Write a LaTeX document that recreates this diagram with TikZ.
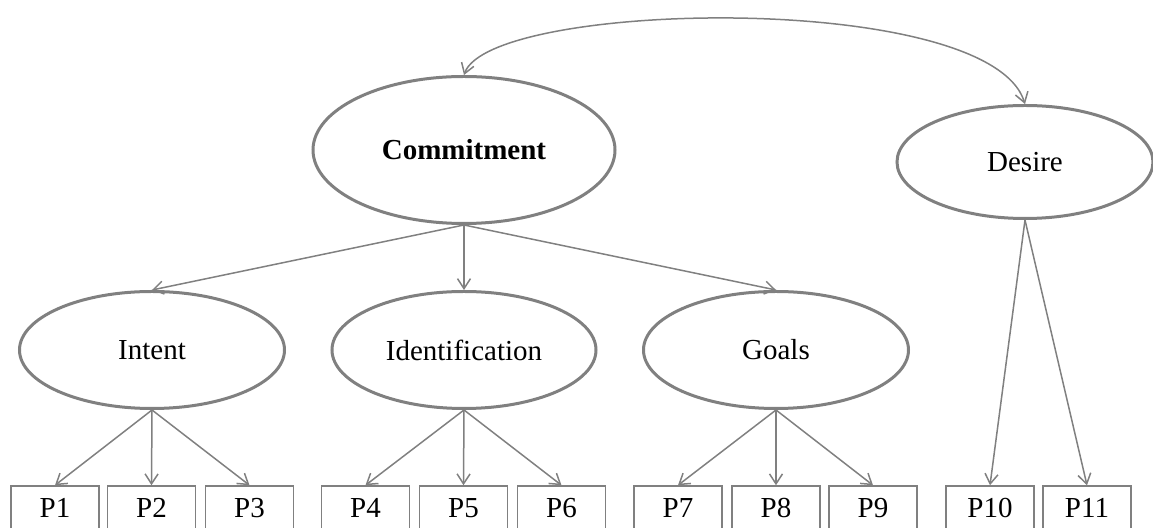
\documentclass[tikz,border=0pt]{standalone}
\usepackage{fontspec}
\setmainfont{Liberation Serif}
\usepackage{tikz}
\usetikzlibrary{
  shapes.geometric,
  arrows.meta,
  positioning
}
\definecolor{linegray}{RGB}{128,128,128}
\tikzset{
  latent/.style={ellipse,draw=linegray,line width=1.5pt,inner sep=0pt,
    font=\fontsize{14.5}{17}\selectfont},
  item/.style={rectangle,draw=linegray,line width=0.75pt,minimum width=44pt,
    minimum height=22pt,inner sep=0pt,font=\fontsize{14.5}{17}\selectfont},
  arr/.style={-{Straight Barb[length=5pt,width=6.5pt]},line width=0.75pt,draw=linegray}
}

\begin{document}
\begin{tikzpicture}[x=0.5pt,y=-0.5pt]
\useasboundingbox (0,0) rectangle (1153,528);

% Latent factors
\node[latent,minimum width=151pt,minimum height=73.5pt] (commit) at (464,150) {\textbf{Commitment}};
\node[latent,minimum width=128pt,minimum height=56.5pt] (desire) at (1025,162) {Desire};
\node[latent,minimum width=132.5pt,minimum height=58.5pt] (intent) at (152,350) {Intent};
\node[latent,minimum width=132pt,minimum height=58.5pt] (ident) at (464,350) {Identification};
\node[latent,minimum width=132.5pt,minimum height=58.5pt] (goals) at (776,350) {Goals};

% Items
\foreach \n/\x in {1/55,2/151.5,3/249.5,4/365.5,5/463.5,6/561.5,7/678,8/776,9/873,10/990,11/1087}
  \node[item] (p\n) at (\x,508) {P\n};

% Relationships
\draw[arr,{Straight Barb[length=5pt,width=6.5pt]}-{Straight Barb[length=5pt,width=6.5pt]}]
  (commit.north) .. controls (490,0) and (990,-10) .. (desire.north);
\draw[arr] (commit.south) -- (intent.north);
\draw[arr] (commit.south) -- (ident.north);
\draw[arr] (commit.south) -- (goals.north);
\foreach \i in {1,2,3} \draw[arr] (intent.south) -- (p\i.north);
\foreach \i in {4,5,6} \draw[arr] (ident.south) -- (p\i.north);
\foreach \i in {7,8,9} \draw[arr] (goals.south) -- (p\i.north);
\draw[arr] (desire.south) -- (p10.north);
\draw[arr] (desire.south) -- (p11.north);

\end{tikzpicture}
\end{document}
